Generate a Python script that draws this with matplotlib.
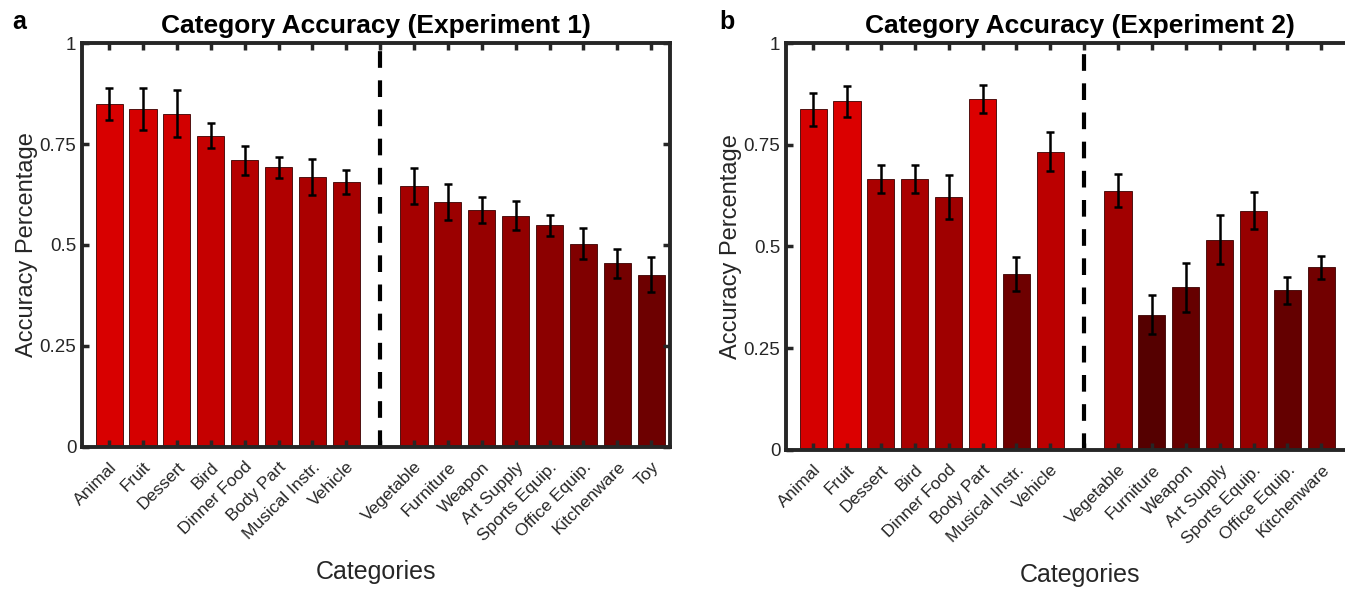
import numpy as np
import matplotlib.pyplot as plt

plt.rcParams['font.family'] = ['Liberation Sans', 'DejaVu Sans']

# -----------------------------
# Data
# -----------------------------
cats_1 = ["Animal", "Fruit", "Dessert", "Bird", "Dinner Food", "Body Part",
          "Musical Instr.", "Vehicle",
          "Vegetable", "Furniture", "Weapon", "Art Supply", "Sports Equip.",
          "Office Equip.", "Kitchenware", "Toy"]
acc_1 = [0.849, 0.836, 0.825, 0.771, 0.710, 0.692, 0.668, 0.656,
         0.646, 0.606, 0.587, 0.573, 0.549, 0.503, 0.455, 0.426]
err_1 = [0.040, 0.052, 0.058, 0.031, 0.036, 0.027, 0.044, 0.030,
         0.044, 0.044, 0.032, 0.037, 0.026, 0.038, 0.036, 0.043]

cats_2 = ["Animal", "Fruit", "Dessert", "Bird", "Dinner Food", "Body Part",
          "Musical Instr.", "Vehicle",
          "Vegetable", "Furniture", "Weapon", "Art Supply", "Sports Equip.",
          "Office Equip.", "Kitchenware"]
acc_2 = [0.837, 0.857, 0.666, 0.666, 0.622, 0.862, 0.433, 0.733,
         0.637, 0.332, 0.400, 0.517, 0.588, 0.392, 0.449]
err_2 = [0.040, 0.038, 0.034, 0.034, 0.054, 0.034, 0.042, 0.048,
         0.040, 0.048, 0.060, 0.060, 0.046, 0.034, 0.028]

n_first = 8          # categories left of the dashed divider
yticks = [0, 0.25, 0.5, 0.75, 1]
ytick_labels = ["0", "0.25", "0.5", "0.75", "1"]


def draw_panel(ax, cats, acc, err, title):
    # positions 1..8, divider at 9, then 10..
    pos = [i + 1 if i < n_first else i + 2 for i in range(len(cats))]
    colors = [(a, 0, 0) for a in acc]   # red intensity follows accuracy
    ax.bar(pos, acc, width=0.8, color=colors, edgecolor='#3a0000', linewidth=0.6)
    ax.errorbar(pos, acc, yerr=err, fmt='none', ecolor='black',
                elinewidth=1.8, capsize=3, capthick=1.8)
    ax.axvline(n_first + 1, color='black', linestyle=(0, (4, 3)), linewidth=3)

    ticks = list(range(1, 18))
    labels = cats[:n_first] + [""] + cats[n_first:]
    labels = labels + [""] * (len(ticks) - len(labels))
    ax.set_xticks(ticks)
    ax.set_xticklabels(labels, rotation=45, ha='right', rotation_mode='anchor',
                       fontsize=12.5, color='#262626')
    ax.set_xlim(0.2, 17.55)
    ax.set_ylim(0, 1)
    ax.set_yticks(yticks)
    ax.set_yticklabels(ytick_labels, fontsize=13.5, color='#262626')
    ax.tick_params(direction='in', length=5, width=2.5, top=True, right=True,
                   color='#262626')
    ax.tick_params(axis='x', pad=9)
    ax.tick_params(axis='y', pad=4)
    for s in ax.spines.values():
        s.set_linewidth(2.8)
        s.set_color('#262626')
    ax.set_title(title, fontsize=19, fontweight='bold', pad=7)
    ax.set_ylabel("Accuracy Percentage", fontsize=17, color='#262626', labelpad=1)
    ax.set_xlabel("Categories", fontsize=18, color='#262626', labelpad=12)


fig = plt.figure(figsize=(13.45, 5.91), dpi=100)
ax1 = fig.add_axes([0.061, 0.244, 0.437, 0.683])
ax2 = fig.add_axes([0.5844, 0.239, 0.437, 0.688])

draw_panel(ax1, cats_1, acc_1, err_1, "Category Accuracy (Experiment 1)")
draw_panel(ax2, cats_2, acc_2, err_2, "Category Accuracy (Experiment 2)")

fig.text(0.009, 0.962, "a", fontsize=18, fontweight='bold', va='center')
fig.text(0.535, 0.962, "b", fontsize=18, fontweight='bold', va='center')

fig.savefig("out.png", dpi=100)
